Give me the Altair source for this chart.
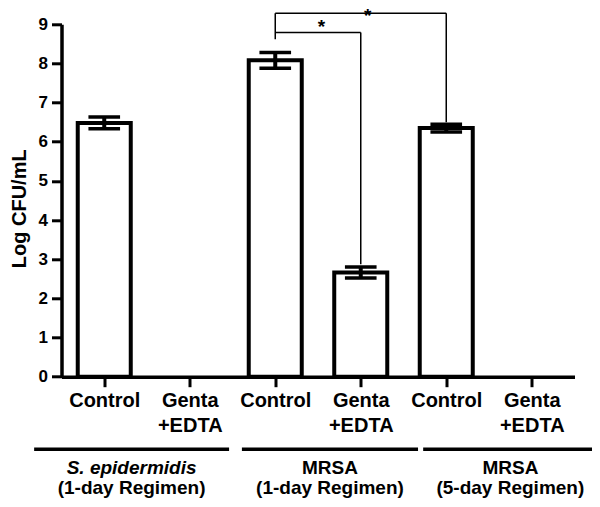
import altair as alt
import pandas as pd

# ---- data ----
tick_labels = ["Control", "Genta|+EDTA", "Control", "Genta|+EDTA", "Control", "Genta|+EDTA"]
positions = [0.5, 1.5, 2.5, 3.5, 4.5, 5.5]
means = [6.48, 0.0, 8.08, 2.66, 6.35, 0.0]
errors = [0.15, 0.0, 0.20, 0.14, 0.10, 0.0]

group_top = ["S. epidermidis", "MRSA", "MRSA"]
group_bottom = ["(1-day Regimen)", "(1-day Regimen)", "(5-day Regimen)"]
group_italic = [True, False, False]
group_start = [-0.32, 2.11, 4.23]
group_end = [1.96, 4.17, 6.27]

bracket_x = [2.5, 2.5, 3.5, 2.5, 4.5]
bracket_x2 = [2.5, 3.5, 3.5, 4.5, 4.5]
bracket_y = [8.62, 8.79, 8.79, 9.28, 9.28]
bracket_y2 = [9.28, 8.79, 2.87, 9.28, 6.50]

star_x = [3.04, 3.58]
star_y = [8.77, 9.063]
star_text = ["*", "*"]

y_ticks = [0, 1, 2, 3, 4, 5, 6, 7, 8, 9]

# ---- tables ----
bars = pd.DataFrame({"x": positions, "y": means, "err": errors})
groups = pd.DataFrame({
    "top": group_top, "bottom": group_bottom, "italic": group_italic,
    "x": group_start, "x2": group_end,
})
groups["c"] = (groups["x"] + groups["x2"]) / 2
brackets = pd.DataFrame({"x": bracket_x, "x2": bracket_x2, "y": bracket_y, "y2": bracket_y2})
stars = pd.DataFrame({"x": star_x, "y": star_y, "t": star_text})

FONT = "Liberation Sans"
xs = alt.Scale(domain=[0, 6], nice=False, zero=False)
ys = alt.Scale(domain=[0, 9], nice=False)

label_js = "[" + ",".join("'" + s + "'" for s in tick_labels) + "]"

XAXIS = alt.Axis(
    values=positions, title=None, labelExpr="split(" + label_js + "[floor(datum.value)], '|')",
    labelFont=FONT, labelFontSize=20, labelFontWeight="bold", labelColor="black",
    labelLineHeight=25, labelPadding=4, tickSize=10, tickWidth=3, tickColor="black",
    domainColor="black", domainWidth=3.5, grid=False, labelAngle=0, labelOverlap=False,
)
YAXIS = alt.Axis(
    values=y_ticks, title="Log CFU/mL", titleFont=FONT, titleFontSize=20,
    titleFontWeight="bold", titleColor="black", titleX=-42, titleY=184,
    titleAngle=-90, titleBaseline="middle", titleAlign="center",
    labelFont=FONT, labelFontSize=17, labelFontWeight="bold", labelColor="black",
    labelPadding=4, tickSize=10, tickWidth=3, tickColor="black",
    domainColor="black", domainWidth=3.5, grid=False, labelOverlap=False,
)


def X(field):
    return alt.X(field, scale=xs, axis=XAXIS, title=None)


def Y(field):
    return alt.Y(field, scale=ys, axis=YAXIS, title="Log CFU/mL")


base = alt.Chart(bars).transform_filter("datum.y > 0").transform_calculate(
    xl="datum.x - 0.31", xr="datum.x + 0.31",
    cl="datum.x - 0.185", cr="datum.x + 0.185",
    hi="datum.y + datum.err", lo="datum.y - datum.err", zero="0",
)

bar_layer = base.mark_bar(fill="white", stroke="black", strokeWidth=4).encode(
    x=X("xl:Q"), x2="xr:Q", y=Y("y:Q"), y2="zero:Q",
)
err_v = base.mark_rule(color="black", strokeWidth=4).encode(
    x=X("x:Q"), y=Y("lo:Q"), y2="hi:Q",
)
cap_hi = base.mark_rule(color="black", strokeWidth=3.5).encode(
    x=X("cl:Q"), x2="cr:Q", y=Y("hi:Q"),
)
cap_lo = base.mark_rule(color="black", strokeWidth=3.5).encode(
    x=X("cl:Q"), x2="cr:Q", y=Y("lo:Q"),
)

bracket_layer = alt.Chart(brackets).mark_rule(color="black", strokeWidth=1.5).encode(
    x=X("x:Q"), x2="x2:Q", y=Y("y:Q"), y2="y2:Q",
)
star_layer = alt.Chart(stars).mark_text(
    font=FONT, fontSize=19, fontWeight="bold", color="black", baseline="alphabetic"
).encode(x=X("x:Q"), y=Y("y:Q"), text="t:N")

group_lines = alt.Chart(groups).mark_rule(color="black", strokeWidth=3.5).encode(
    x=X("x:Q"), x2="x2:Q", y=alt.value(425),
)
top_it = alt.Chart(groups).transform_filter("datum.italic").mark_text(
    font=FONT, fontSize=19, fontWeight="bold", fontStyle="italic", color="black",
    baseline="alphabetic",
).encode(x=X("c:Q"), y=alt.value(450), text="top:N")
top_reg = alt.Chart(groups).transform_filter("!datum.italic").mark_text(
    font=FONT, fontSize=19, fontWeight="bold", color="black", baseline="alphabetic",
).encode(x=X("c:Q"), y=alt.value(450), text="top:N")
bottom_txt = alt.Chart(groups).mark_text(
    font=FONT, fontSize=19, fontWeight="bold", color="black", baseline="alphabetic",
).encode(x=X("c:Q"), y=alt.value(469.2), text="bottom:N")

chart = alt.layer(
    bar_layer, err_v, cap_hi, cap_lo, bracket_layer, star_layer,
    group_lines, top_it, top_reg, bottom_txt,
).properties(
    width=513, height=352.4,
    autosize=alt.AutoSizeParams(type="none"),
    padding={"left": 53.5, "top": 16.3, "right": 17.5, "bottom": 122.3},
).configure_view(stroke=None)

chart.save("out.html", embed_options={"renderer": "svg", "actions": False})
